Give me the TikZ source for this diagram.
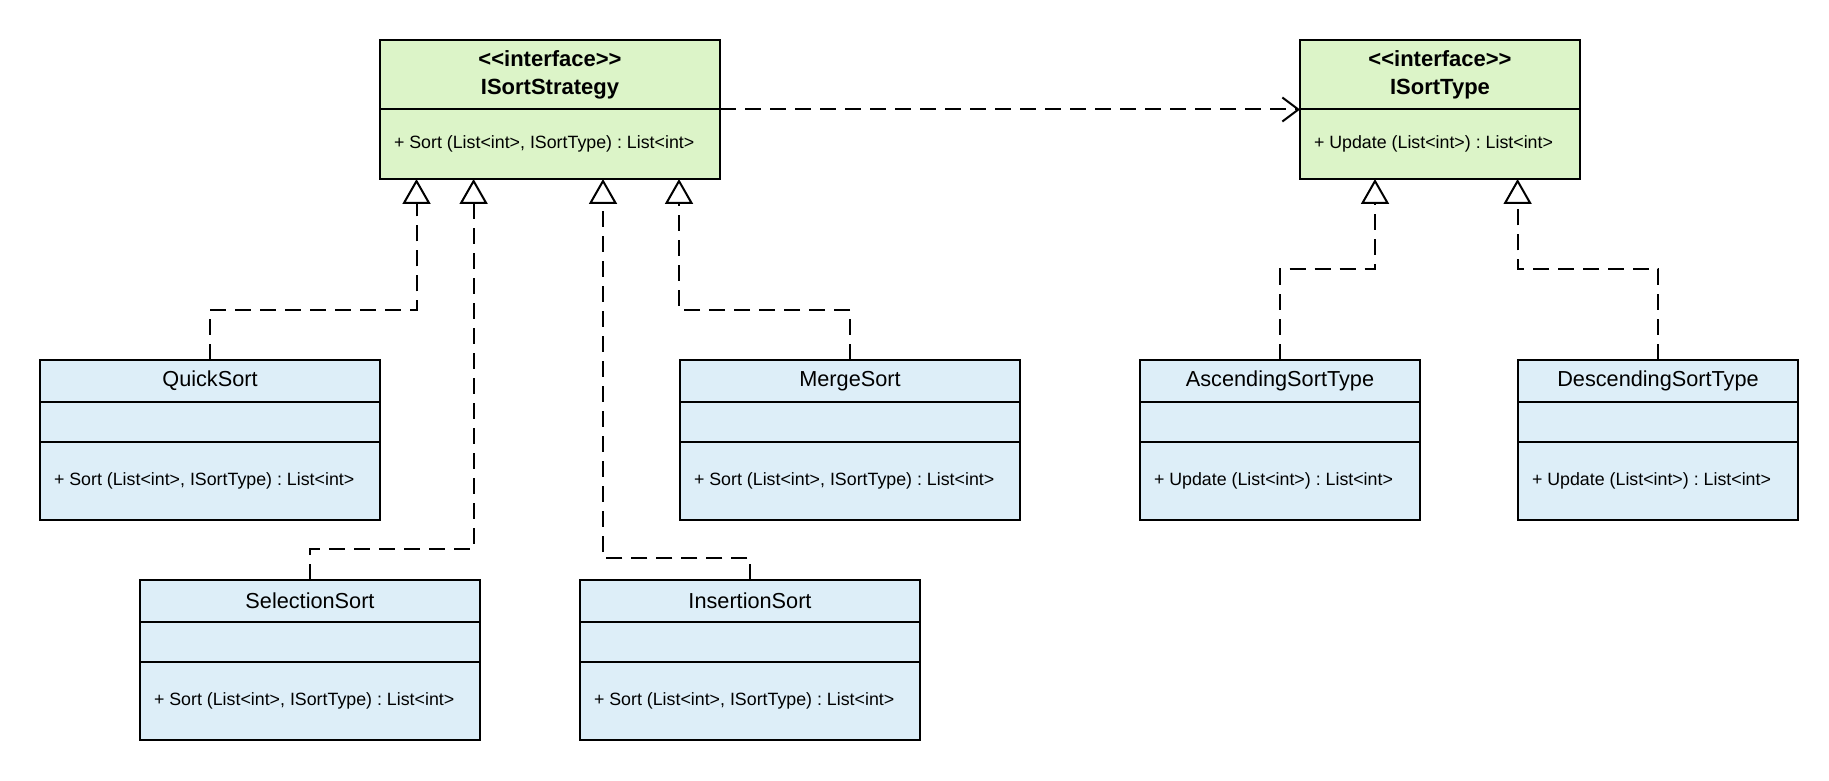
\documentclass[tikz,border=0pt]{standalone}
\usepackage{fontspec}
\setmainfont{Liberation Sans}
\usepackage{xcolor}
\usepackage{tikz}
\usetikzlibrary{arrows.meta, positioning}
\frenchspacing
\definecolor{ifaceGreen}{RGB}{220,244,200}
\definecolor{classBlue}{RGB}{221,238,248}
\def\nameH{42pt}
\def\attrH{82pt}
\def\headH{69pt}
\def\textInset{13pt}
\newcommand{\stereo}[1]{<\kern0pt<#1>\kern0pt>}
\newcommand{\sortclass}[5]{%
% #1 = node, #2 = top left corner, #3 = width, #4 = name, #5 = operation
\node[classbox, minimum width=#3, anchor=north west] (#1) at (#2) {};
\draw ([yshift=-\nameH]#1.north west) -- ([yshift=-\nameH]#1.north east);
\draw ([yshift=-\attrH]#1.north west) -- ([yshift=-\attrH]#1.north east);
\node[classname] (#1-name) at ([yshift=-21pt]#1.north) {#4};
\node[operation] (#1-op) at ([xshift=\textInset, yshift=39pt]#1.south west) {#5};
}
\newcommand{\sortiface}[5]{%
% #1 = node, #2 = top left corner, #3 = width, #4 = name, #5 = operation
\node[ifacebox, minimum width=#3, anchor=north west] (#1) at (#2) {};
\draw ([yshift=-\headH]#1.north west) -- ([yshift=-\headH]#1.north east);
\node[classname, font=\fontsize{22}{28}\selectfont\bfseries] (#1-name)
  at ([yshift=-34.5pt]#1.north) {\stereo{interface}\\#4};
\node[operation] (#1-op) at ([xshift=\textInset, yshift=35pt]#1.south west) {#5};
}

\begin{document}
\begin{tikzpicture}[
    x=1pt, y=1pt,
    line width=2pt,
    classbox/.style={draw, fill=classBlue, minimum height=160pt, inner sep=0pt, outer sep=0pt},
    ifacebox/.style={draw, fill=ifaceGreen, minimum height=139pt, inner sep=0pt, outer sep=0pt},
    classname/.style={font=\fontsize{21.7}{28}\selectfont, inner sep=0pt, align=center},
    operation/.style={anchor=west, font=\fontsize{17.8}{21}\selectfont, inner sep=0pt},
    realize/.style={dash pattern=on 16pt off 9pt, -{Triangle[open, length=25pt, width=28pt]}},
    depend/.style={dash pattern=on 16pt off 9pt, -{Straight Barb[length=16pt, width=24pt]}}
]
\useasboundingbox (0,0) rectangle (1829,780);

% interfaces
\sortiface{strategy}{380,740}{340pt}{ISortStrategy}{+ Sort (List<int>, ISortType) : List<int>}
\sortiface{sorttype}{1300,740}{280pt}{ISortType}{+ Update (List<int>) : List<int>}

% strategies
\sortclass{quick}{40,420}{340pt}{QuickSort}{+ Sort (List<int>, ISortType) : List<int>}
\sortclass{merge}{680,420}{340pt}{MergeSort}{+ Sort (List<int>, ISortType) : List<int>}
\sortclass{selection}{140,200}{340pt}{SelectionSort}{+ Sort (List<int>, ISortType) : List<int>}
\sortclass{insertion}{580,200}{340pt}{InsertionSort}{+ Sort (List<int>, ISortType) : List<int>}

% sort types
\sortclass{asc}{1140,420}{280pt}{AscendingSortType}{+ Update (List<int>) : List<int>}
\sortclass{desc}{1518,420}{280pt}{DescendingSortType}{+ Update (List<int>) : List<int>}

\draw[depend] (strategy.east) -- (sorttype.west);

\draw[realize] (quick.north) -- ++(0,50) -| ([xshift=36.5pt]strategy.south west);
\draw[realize] (selection.north) -- ++(0,31) -| ([xshift=93.6pt]strategy.south west);
\draw[realize] (insertion.north) -- ++(0,22.4) -| ([xshift=223pt]strategy.south west);
\draw[realize] (merge.north) -- ++(0,50) -| ([xshift=299pt]strategy.south west);
\draw[realize] (asc.north) -- ++(0,90.5) -| ([xshift=75pt]sorttype.south west);
\draw[realize] (desc.north) -- ++(0,90.5) -| ([xshift=217.6pt]sorttype.south west);
\end{tikzpicture}
\end{document}
